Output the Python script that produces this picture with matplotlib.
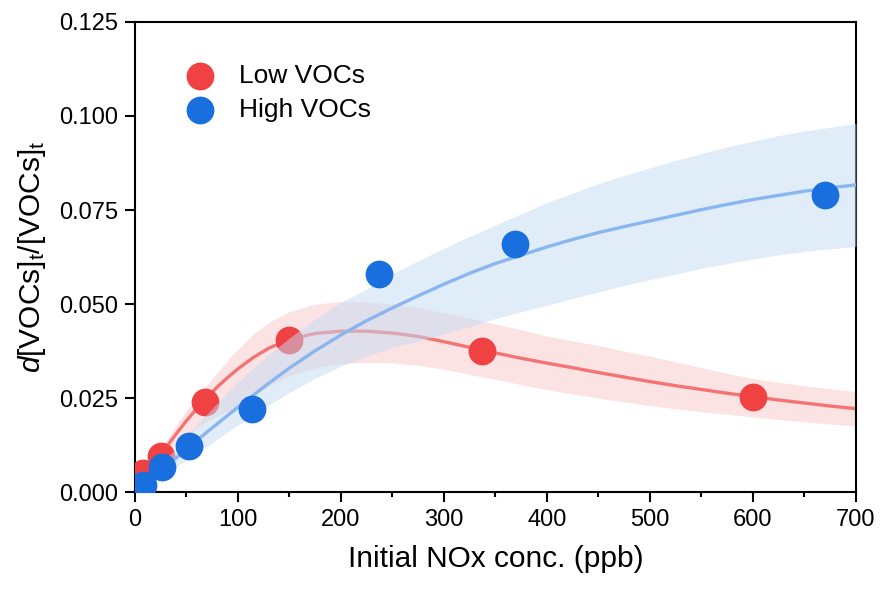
import numpy as np
import matplotlib.pyplot as plt
from matplotlib.ticker import MultipleLocator

# measured points
low_x = [8, 25, 68, 150, 337, 600]
low_y = [0.0050, 0.0096, 0.0240, 0.0405, 0.0375, 0.0254]
high_x = [8, 26, 52, 114, 237, 369, 670]
high_y = [0.0020, 0.0068, 0.0122, 0.0222, 0.0580, 0.0660, 0.0790]

# fitted curves and confidence bands
fit_x = [0, 10, 20, 30, 40, 50, 60, 70, 80, 90, 100, 115, 130, 150, 175, 200,
         225, 250, 275, 300, 325, 350, 375, 400, 425, 450, 475, 500, 525, 550,
         575, 600, 625, 650, 675, 700]
low_fit = [0.0, 0.0040, 0.0080, 0.0118, 0.0155, 0.0190, 0.0222, 0.0252, 0.0280, 0.0305,
           0.0328, 0.0358, 0.0383, 0.0406, 0.0422, 0.0428,
           0.0428, 0.0423, 0.0414, 0.0400, 0.0385, 0.0370, 0.0356, 0.0343, 0.0331, 0.0318,
           0.0306, 0.0294, 0.0283, 0.0273, 0.0263, 0.0254, 0.0245, 0.0237, 0.0229, 0.0222]
low_hi = [0.0, 0.0045, 0.0090, 0.0135, 0.0178, 0.0218, 0.0250, 0.0285, 0.0318, 0.0350,
          0.0380, 0.0420, 0.0452, 0.0480, 0.0500, 0.0507,
          0.0506, 0.0500, 0.0490, 0.0477, 0.0462, 0.0447, 0.0432, 0.0415, 0.0402, 0.0390,
          0.0375, 0.0362, 0.0346, 0.0331, 0.0316, 0.0302, 0.0292, 0.0283, 0.0275, 0.0267]
low_lo = [0.0, 0.0035, 0.0070, 0.0100, 0.0125, 0.0150, 0.0170, 0.0188, 0.0203, 0.0215,
          0.0228, 0.0256, 0.0282, 0.0310, 0.0330, 0.0342,
          0.0345, 0.0344, 0.0337, 0.0327, 0.0313, 0.0300, 0.0286, 0.0272, 0.0261, 0.0250,
          0.0240, 0.0230, 0.0222, 0.0214, 0.0207, 0.0200, 0.0193, 0.0187, 0.0181, 0.0176]
high_fit = [0.0, 0.0022, 0.0045, 0.0068, 0.0091, 0.0114, 0.0137, 0.0160, 0.0182, 0.0204,
            0.0226, 0.0258, 0.0290, 0.0330, 0.0376, 0.0418,
            0.0456, 0.0490, 0.0522, 0.0553, 0.0582, 0.0608, 0.0630, 0.0652, 0.0672, 0.0690,
            0.0706, 0.0721, 0.0736, 0.0751, 0.0765, 0.0778, 0.0789, 0.0800, 0.0809, 0.0817]
high_hi = [0.0, 0.0028, 0.0058, 0.0088, 0.0118, 0.0148, 0.0178, 0.0208, 0.0237, 0.0265,
           0.0292, 0.0330, 0.0365, 0.0410, 0.0460, 0.0505,
           0.0540, 0.0580, 0.0615, 0.0648, 0.0680, 0.0710, 0.0740, 0.0770, 0.0795, 0.0820,
           0.0842, 0.0862, 0.0882, 0.0900, 0.0918, 0.0933, 0.0948, 0.0960, 0.0970, 0.0980]
high_lo = [0.0, 0.0016, 0.0033, 0.0050, 0.0068, 0.0086, 0.0104, 0.0122, 0.0141, 0.0160,
           0.0178, 0.0205, 0.0232, 0.0265, 0.0303, 0.0335,
           0.0362, 0.0385, 0.0402, 0.0420, 0.0440, 0.0462, 0.0480, 0.0497, 0.0515, 0.0532,
           0.0550, 0.0565, 0.0580, 0.0595, 0.0608, 0.0620, 0.0631, 0.0640, 0.0647, 0.0653]

plt.rcParams['font.family'] = ['Liberation Sans', 'DejaVu Sans']
plt.rcParams['mathtext.fontset'] = 'custom'
plt.rcParams['mathtext.rm'] = 'Liberation Sans'
plt.rcParams['mathtext.it'] = 'Liberation Sans:italic'

fig = plt.figure(figsize=(8.82, 5.93), dpi=100)
ax = fig.add_axes([0.153, 0.170, 0.8175, 0.793])

red, red_line, red_band = "#F04242", "#F47474", "#F9C8C8"
blue, blue_line, blue_band = "#1A6FDE", "#8AB6F0", "#C4DAF4"

ax.axhline(0, color="#DCE6F2", lw=1.5, zorder=0)
ax.fill_between(fit_x, low_lo, low_hi, color=red_band, alpha=0.5, lw=0, zorder=1)
ax.plot(fit_x, low_fit, color=red_line, lw=2.4, zorder=2)
ax.scatter(low_x, low_y, s=400, color=red, lw=0, zorder=3, label="Low VOCs")
ax.fill_between(fit_x, high_lo, high_hi, color=blue_band, alpha=0.5, lw=0, zorder=4)
ax.plot(fit_x, high_fit, color=blue_line, lw=2.4, zorder=5)
ax.scatter(high_x, high_y, s=400, color=blue, lw=0, zorder=6, label="High VOCs")

ax.set_xlim(0, 700)
ax.set_ylim(0, 0.125)
ax.xaxis.set_major_locator(MultipleLocator(100))
ax.xaxis.set_minor_locator(MultipleLocator(50))
ax.yaxis.set_major_locator(MultipleLocator(0.025))
ax.yaxis.set_major_formatter(plt.FuncFormatter(lambda v, p: f"{v:.3f}"))
ax.tick_params(which="major", direction="out", length=7, width=1.5, labelsize=17, pad=5)
ax.tick_params(which="minor", direction="out", length=3.5, width=1.5)
for sp in ax.spines.values():
    sp.set_linewidth(1.5)

ax.set_xlabel("Initial NOx conc. (ppb)", fontsize=21.5, labelpad=10)
ax.set_ylabel(r"$\it{d}$[VOCs]$_\mathrm{t}$/[VOCs]$_\mathrm{t}$", fontsize=21.5, labelpad=8)

ax.legend(loc="upper left", bbox_to_anchor=(0.02, 0.962), frameon=False, fontsize=19,
          handletextpad=0.5, labelspacing=0.38, scatterpoints=1)

fig.savefig("out.png", dpi=100)
